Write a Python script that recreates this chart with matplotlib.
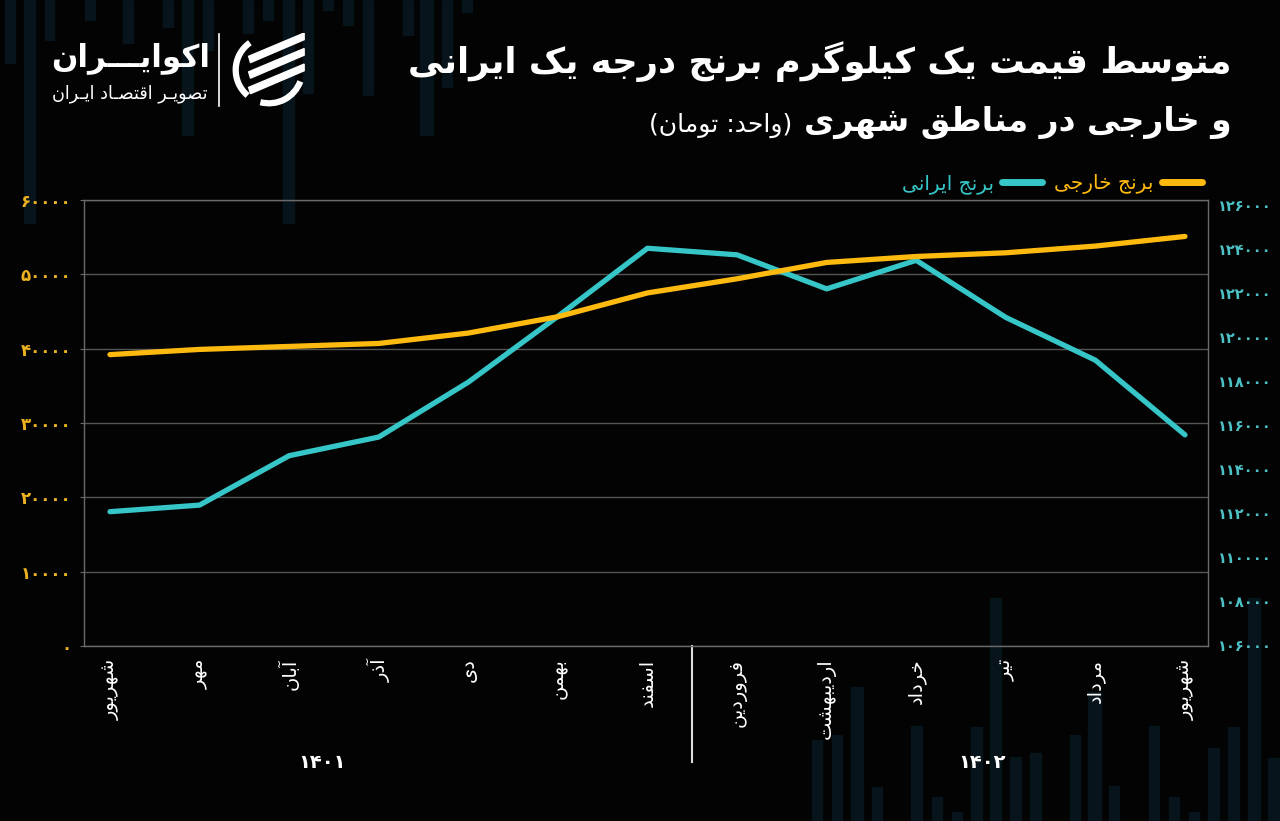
import matplotlib
matplotlib.use('Agg')
import matplotlib.pyplot as plt
from matplotlib.lines import Line2D
from matplotlib.patches import Rectangle, Polygon, Arc
from matplotlib.ticker import FuncFormatter

# data
months = ['شهریور', 'مهر', 'آبان', 'آذر', 'دی', 'بهمن', 'اسفند',
          'فروردین', 'اردیبهشت', 'خرداد', 'تیر', 'مرداد', 'شهریور']
foreign = [39200, 39900, 40300, 40700, 42100, 44300, 47500,
           49400, 51600, 52400, 52900, 53800, 55100]
iranian = [112050, 112350, 114600, 115450, 117950, 120950, 124050,
           123750, 122200, 123500, 120900, 118950, 115550]
years = ['۱۴۰۱', '۱۴۰۲']
left_ticks = list(range(0, 60001, 10000))
right_ticks = list(range(106000, 126001, 2000))

YELLOW = '#FFBA0F'
TEAL = '#36C6C8'
BG = '#030303'

# --- tiny persian shaper (matplotlib has no text shaping) ---
FORMS = {
    'ا': ('\uFE8D', '\uFE8E', None, None),
    'آ': ('\uFE81', '\uFE82', None, None),
    'ب': ('\uFE8F', '\uFE90', '\uFE91', '\uFE92'),
    'پ': ('\uFB56', '\uFB57', '\uFB58', '\uFB59'),
    'ت': ('\uFE95', '\uFE96', '\uFE97', '\uFE98'),
    'ث': ('\uFE99', '\uFE9A', '\uFE9B', '\uFE9C'),
    'ج': ('\uFE9D', '\uFE9E', '\uFE9F', '\uFEA0'),
    'چ': ('\uFB7A', '\uFB7B', '\uFB7C', '\uFB7D'),
    'ح': ('\uFEA1', '\uFEA2', '\uFEA3', '\uFEA4'),
    'خ': ('\uFEA5', '\uFEA6', '\uFEA7', '\uFEA8'),
    'د': ('\uFEA9', '\uFEAA', None, None),
    'ذ': ('\uFEAB', '\uFEAC', None, None),
    'ر': ('\uFEAD', '\uFEAE', None, None),
    'ز': ('\uFEAF', '\uFEB0', None, None),
    'ژ': ('\uFB8A', '\uFB8B', None, None),
    'س': ('\uFEB1', '\uFEB2', '\uFEB3', '\uFEB4'),
    'ش': ('\uFEB5', '\uFEB6', '\uFEB7', '\uFEB8'),
    'ص': ('\uFEB9', '\uFEBA', '\uFEBB', '\uFEBC'),
    'ض': ('\uFEBD', '\uFEBE', '\uFEBF', '\uFEC0'),
    'ط': ('\uFEC1', '\uFEC2', '\uFEC3', '\uFEC4'),
    'ظ': ('\uFEC5', '\uFEC6', '\uFEC7', '\uFEC8'),
    'ع': ('\uFEC9', '\uFECA', '\uFECB', '\uFECC'),
    'غ': ('\uFECD', '\uFECE', '\uFECF', '\uFED0'),
    'ف': ('\uFED1', '\uFED2', '\uFED3', '\uFED4'),
    'ق': ('\uFED5', '\uFED6', '\uFED7', '\uFED8'),
    'ک': ('\uFB8E', '\uFB8F', '\uFB90', '\uFB91'),
    'گ': ('\uFB92', '\uFB93', '\uFB94', '\uFB95'),
    'ل': ('\uFEDD', '\uFEDE', '\uFEDF', '\uFEE0'),
    'م': ('\uFEE1', '\uFEE2', '\uFEE3', '\uFEE4'),
    'ن': ('\uFEE5', '\uFEE6', '\uFEE7', '\uFEE8'),
    'ه': ('\uFEE9', '\uFEEA', '\uFEEB', '\uFEEC'),
    'و': ('\uFEED', '\uFEEE', None, None),
    'ی': ('\uFBFC', '\uFBFD', '\uFBFE', '\uFBFF'),
    'ـ': ('ـ', 'ـ', 'ـ', 'ـ'),
}
RIGHT_ONLY = set('اآدذرزژو')


def fa(text):
    out = []
    for i, ch in enumerate(text):
        f = FORMS.get(ch)
        if f is None:
            out.append(ch)
            continue
        prev = text[i - 1] if i > 0 else ''
        nxt = text[i + 1] if i < len(text) - 1 else ''
        pj = prev in FORMS and prev not in RIGHT_ONLY
        nj = ch not in RIGHT_ONLY and nxt in FORMS
        if pj and nj:
            out.append(f[3])
        elif pj:
            out.append(f[1])
        elif nj:
            out.append(f[2])
        else:
            out.append(f[0])
    s = ''.join(out)[::-1]
    return s.translate(str.maketrans('()', ')('))


def fa_num(v, pos=None):
    return str(int(v)).translate(str.maketrans('0123456789', '۰۱۲۳۴۵۶۷۸۹'))


W, H = 1280, 821
fig = plt.figure(figsize=(12.8, 8.21), dpi=100, facecolor=BG)


def fx(px):
    return px / W


def fy(py):
    return 1 - py / H


# faint background bars (decoration): x, width, end y
top_bars = [(5, 10, 63), (24, 11, 223), (45, 9, 40), (85, 10, 20), (123, 10, 43),
            (163, 10, 27), (182, 11, 135), (203, 10, 50), (243, 10, 33),
            (263, 10, 20), (283, 11, 223), (303, 10, 93), (323, 10, 10),
            (343, 10, 25), (363, 10, 95), (403, 10, 35), (420, 13, 135),
            (442, 10, 87), (462, 10, 12)]
bottom_bars = [(812, 10, 740), (832, 10, 735), (851, 12, 687), (872, 10, 787),
               (911, 11, 726), (932, 10, 797), (952, 10, 812), (971, 11, 727),
               (990, 11, 598), (1010, 11, 757), (1030, 11, 753), (1070, 10, 735),
               (1088, 13, 692), (1109, 10, 786), (1149, 10, 726), (1169, 10, 797),
               (1189, 10, 812), (1208, 11, 748), (1228, 11, 727), (1248, 12, 598),
               (1268, 11, 758)]
for x, w, ye in top_bars:
    fig.patches.append(Rectangle((fx(x), fy(ye)), w / W, ye / H, transform=fig.transFigure,
                                 color='#07141B', zorder=-10))
for x, w, ys in bottom_bars:
    fig.patches.append(Rectangle((fx(x), 0), w / W, (H - ys) / H, transform=fig.transFigure,
                                 color='#07141B', zorder=-10))

# axes
rect = [fx(84), fy(646), (1208 - 84) / W, (646 - 200) / H]
ax = fig.add_axes(rect)
ax.set_facecolor('none')
ax.set_xlim(-0.29, 12.257)
ax.set_ylim(0, 60000)
ax.set_yticks(left_ticks)
ax.yaxis.set_major_formatter(FuncFormatter(fa_num))
ax.tick_params(axis='y', colors='#6a6a6a', labelcolor='#EDB21F', labelsize=12, length=3, pad=6)
for lab in ax.get_yticklabels():
    lab.set_fontweight('bold')
ax.grid(axis='y', color='#555555', lw=1)
ax.set_xticks(range(len(months)))
ax.set_xticklabels([fa(m) for m in months], rotation=90, color='white', fontsize=14)
ax.tick_params(axis='x', length=0, pad=9)
for s in ax.spines.values():
    s.set_color('#6a6a6a')
    s.set_linewidth(1)

ax2 = ax.twinx()
ax2.set_facecolor('none')
ax2.set_ylim(105932, 126248)
ax2.set_yticks(right_ticks)
ax2.yaxis.set_major_formatter(FuncFormatter(fa_num))
ax2.tick_params(axis='y', labelcolor='#4DC2C6', labelsize=10.5, length=0, pad=7)
for lab in ax2.get_yticklabels():
    lab.set_fontweight('bold')
for s in ax2.spines.values():
    s.set_visible(False)
l_ir, = ax2.plot(range(len(months)), iranian, color=TEAL, lw=3.8, solid_capstyle='round',
                 solid_joinstyle='round')

ax3 = ax.twinx()
ax3.set_ylim(0, 60000)
ax3.axis('off')
l_fo, = ax3.plot(range(len(months)), foreign, color=YELLOW, lw=3.8, solid_capstyle='round',
                 solid_joinstyle='round')

leg = ax3.legend([l_ir, l_fo], [fa('برنج ایرانی'), fa('برنج خارجی')], ncol=2,
                 markerfirst=False, loc='lower right', bbox_to_anchor=(1.0, 1.0),
                 frameon=False, labelcolor='linecolor', fontsize=14.5, handlelength=2.0,
                 handletextpad=0.4, columnspacing=0.6, borderaxespad=0.2, borderpad=0.1)
for ln in leg.get_lines():
    ln.set_linewidth(5)

# year separator and labels
ax.plot([6.5, 6.5], [0, -0.26], transform=ax.get_xaxis_transform(), color='#dddddd',
        lw=1.5, clip_on=False)
fig.text(fx(322), fy(762), years[0], color='white', fontsize=14, fontweight='bold',
         ha='center', va='center')
fig.text(fx(982), fy(762), years[1], color='white', fontsize=14, fontweight='bold',
         ha='center', va='center')

# title
renderer = fig.canvas.get_renderer()


def fit(t, width):
    bb = t.get_window_extent(renderer)
    t.set_fontsize(t.get_fontsize() * width / bb.width)


t1 = fig.text(fx(1232), fy(62), fa('متوسط قیمت یک کیلوگرم برنج درجه یک ایرانی'),
              ha='right', va='center', color='white', fontsize=26, fontweight='bold')
fit(t1, 824)
t2 = fig.text(fx(1232), fy(122), fa('و خارجی در مناطق شهری'),
              ha='right', va='center', color='white', fontsize=26, fontweight='bold')
fit(t2, 427)
t3 = fig.text(fx(792), fy(125), fa('(واحد: تومان)'), ha='right', va='center',
              color='white', fontsize=14)
fit(t3, 144)

# logo
t4 = fig.text(fx(210), fy(58), fa('اکوایـــران'), ha='right', va='center',
              color='white', fontsize=26, fontweight='bold')
fit(t4, 158)
t5 = fig.text(fx(208), fy(94), fa('تصویـر اقتصـاد ایـران'), ha='right', va='center',
              color='white', fontsize=12)
fit(t5, 156)
fig.add_artist(Line2D([fx(219), fx(219)], [fy(34), fy(106)], transform=fig.transFigure,
                      color='white', lw=1.2))

lg = fig.add_axes([fx(232), fy(107), 74 / W, 74 / H])
lg.set_xlim(-1, 1)
lg.set_ylim(-1, 1)
lg.axis('off')
lg.add_patch(Arc((0, 0), 1.8, 1.8, theta1=125, theta2=230, lw=4.5, color='white'))
lg.add_patch(Arc((0, 0), 1.8, 1.8, theta1=255, theta2=340, lw=4.5, color='white'))
for y0 in [0.2, -0.22, -0.64]:
    lg.add_patch(Polygon([(-0.5, y0), (0.95, y0 + 0.62), (0.95, y0 + 0.8), (-0.55, y0 + 0.17)],
                         closed=True, color='white'))

fig.savefig('out.png', dpi=100, facecolor=BG)
